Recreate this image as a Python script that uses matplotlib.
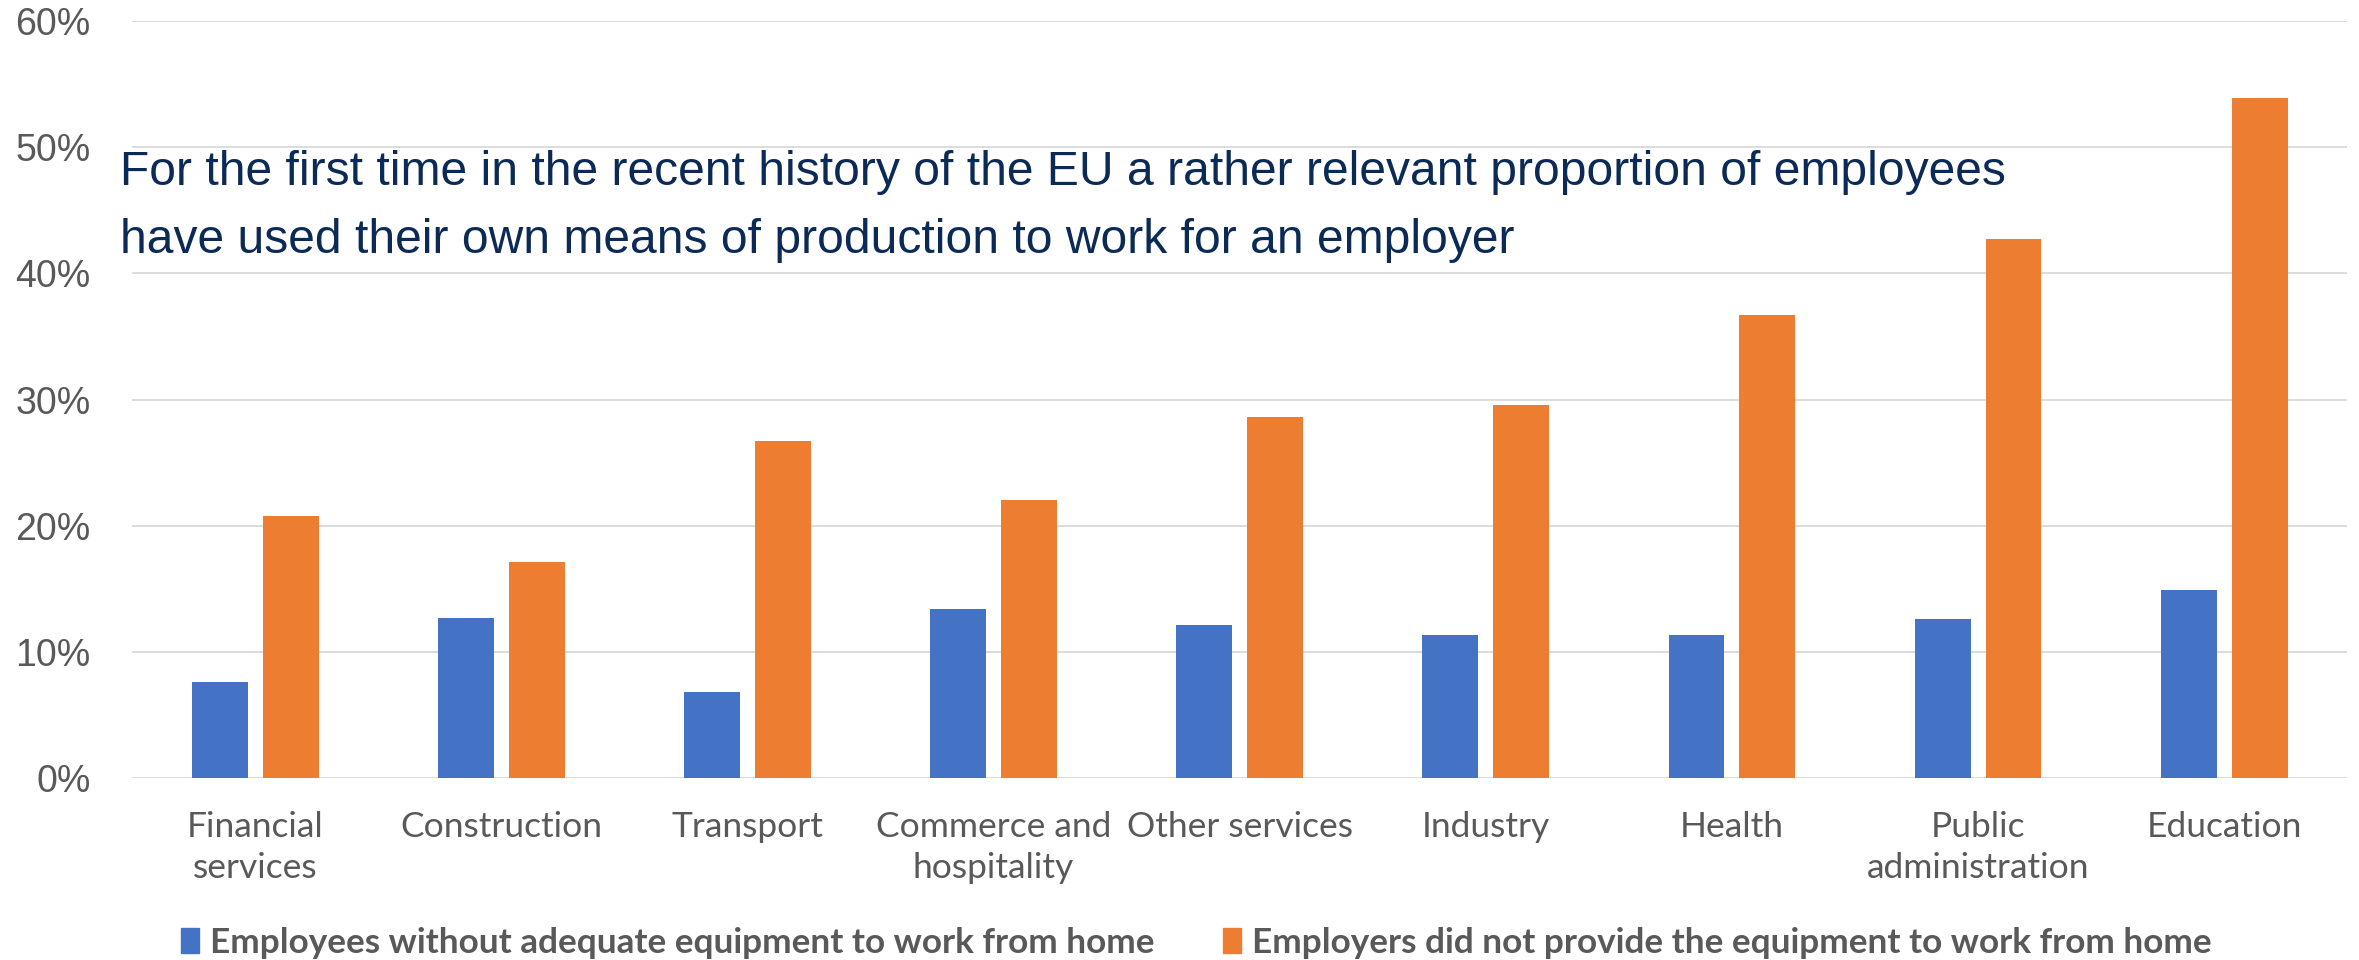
import matplotlib.pyplot as plt
from matplotlib.patches import Patch
from matplotlib.ticker import PercentFormatter
import numpy as np

sectors = ["Financial\nservices", "Construction", "Transport", "Commerce and\nhospitality",
           "Other services", "Industry", "Health", "Public\nadministration", "Education"]

no_equipment = [7.6, 12.7, 6.8, 13.4, 12.1, 11.3, 11.3, 12.6, 14.9]
not_provided = [20.8, 17.1, 26.7, 22.0, 28.6, 29.6, 36.7, 42.7, 53.9]

series_names = ["Employees without adequate equipment to work from home",
                "Employers did not provide the equipment to work from home"]

blue = "#4472C4"
orange = "#ED7D31"
grey = "#595959"

fig = plt.figure(figsize=(23.59, 9.6), dpi=100)
ax = fig.add_axes([0.056, 0.1896, 0.939, 0.7885])

x = np.arange(len(sectors))
w = 0.227
ax.bar(x - 0.144, no_equipment, w, color=blue, zorder=3)
ax.bar(x + 0.144, not_provided, w, color=orange, zorder=3)

ax.set_xlim(-0.5, len(sectors) - 0.5)
ax.set_ylim(0, 60)
ax.set_yticks(range(0, 61, 10))
ax.yaxis.set_major_formatter(PercentFormatter(decimals=0))
ax.grid(axis="y", color="#D9D9D9", linewidth=1.3, zorder=0)
for s in ax.spines.values():
    s.set_visible(False)

ax.set_xticks(x)
ax.set_xticklabels(sectors, family="Lato", fontsize=25.5, color=grey, linespacing=1.35)
ax.tick_params(axis="x", length=0, pad=24)
ax.tick_params(axis="y", length=0, pad=30, labelsize=27, labelcolor=grey)
for lab in ax.get_yticklabels():
    lab.set_family("Liberation Sans")

fig.text(0.051, 0.726,
         "For the first time in the recent history of the EU a rather relevant proportion of employees\n"
         "have used their own means of production to work for an employer",
         family="Liberation Sans", fontsize=34.6, color="#0B2A55", va="bottom", linespacing=1.65)

handles = [Patch(color=blue), Patch(color=orange)]
fig.legend(handles, series_names, loc="center", bbox_to_anchor=(0.507, 0.018), ncol=2,
           frameon=False, handlelength=0.52, handleheight=0.75, handletextpad=0.3,
           columnspacing=1.95, prop={"family": "Lato", "weight": "bold", "size": 25.3},
           labelcolor=grey)

fig.savefig("out.png", dpi=100)
